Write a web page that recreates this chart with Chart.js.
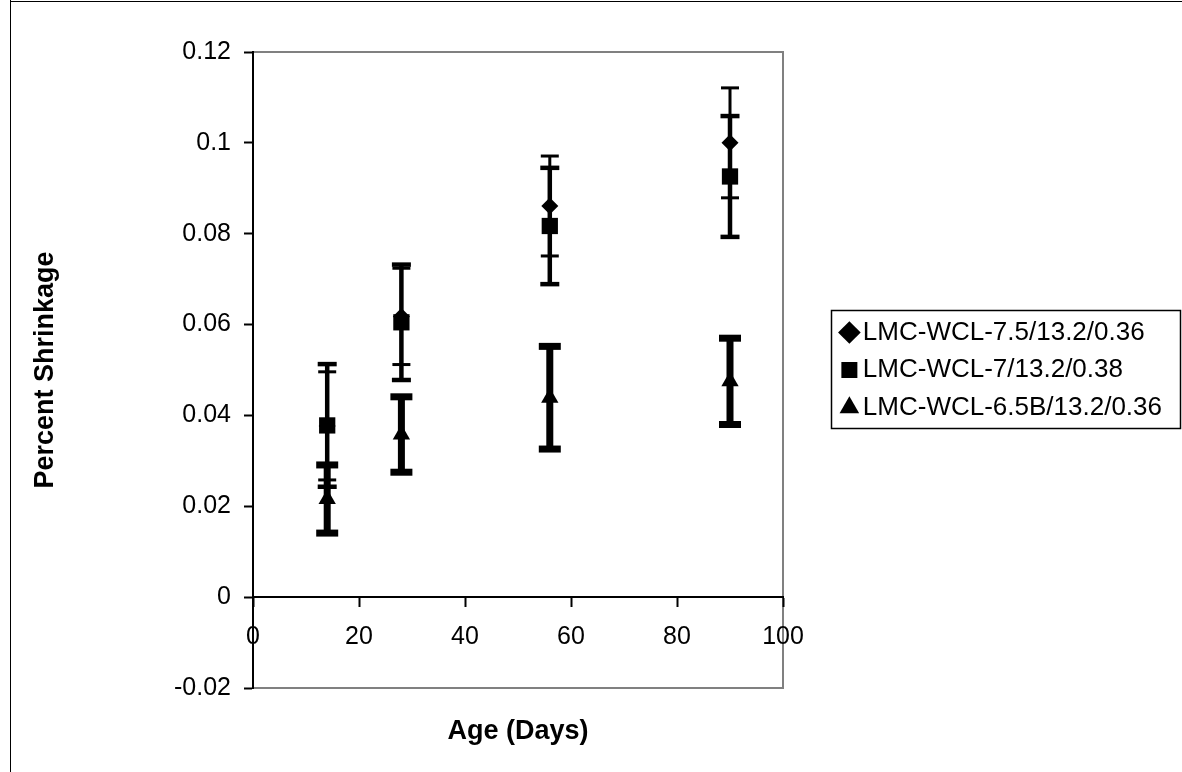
<!DOCTYPE html>
<html>
<head>
<meta charset="utf-8">
<script src="https://cdn.jsdelivr.net/npm/chart.js@4.4.1/dist/chart.umd.min.js"></script>
<style>
html,body{margin:0;padding:0;background:#fff;}
#wrap{width:1182px;height:772px;position:relative;}
</style>
</head>
<body>
<div id="wrap"><canvas id="c" width="1182" height="772"></canvas></div>
<script>
// ---- data ----
const days = [14, 28, 56, 90];
const seriesNames = ['LMC-WCL-7.5/13.2/0.36', 'LMC-WCL-7/13.2/0.38', 'LMC-WCL-6.5B/13.2/0.36'];
const s1 = [0.0377, 0.0618, 0.0861, 0.1000];
const e1 = [0.0119, 0.0106, 0.0110, 0.0121];
const s2 = [0.0378, 0.0605, 0.0817, 0.0926];
const e2 = [0.0135, 0.0127, 0.0128, 0.0133];
const s3 = [0.0216, 0.0358, 0.0439, 0.0475];
const e3 = [0.0075, 0.0083, 0.0113, 0.0095];
const yTickValues = [-0.02, 0, 0.02, 0.04, 0.06, 0.08, 0.1, 0.12];
const yTickLabels = ['-0.02', '0', '0.02', '0.04', '0.06', '0.08', '0.1', '0.12'];
const xTickValues = [0, 20, 40, 60, 80, 100];
const xTickLabels = ['0', '20', '40', '60', '80', '100'];

const FONT = "'Liberation Sans', Arial, sans-serif";

function pts(v) { return days.map((d, i) => ({x: d, y: v[i]})); }
function bars(v, e) {
  const out = [];
  days.forEach((d, i) => {
    out.push({x: d, y: v[i] - e[i]}, {x: d, y: v[i] + e[i]}, {x: d, y: null});
  });
  return out;
}

const markerStyles = [
  {pointStyle: 'rectRot', radius: 8.5},
  {pointStyle: 'rect', radius: 11.5},
  {pointStyle: 'triangle', radius: 10}
];
const barStyles = [
  {width: 3, cap: 9, capW: 3},
  {width: 4.5, cap: 9.5, capW: 4.5},
  {width: 7, cap: 11, capW: 7}
];
const values = [s1, s2, s3];
const errs = [e1, e2, e3];

const datasets = [];
values.forEach((v, k) => {
  datasets.push({
    label: seriesNames[k],
    data: pts(v),
    showLine: false,
    pointStyle: markerStyles[k].pointStyle,
    pointRadius: markerStyles[k].radius,
    pointBackgroundColor: '#000',
    pointBorderColor: '#000',
    pointBorderWidth: 0,
    backgroundColor: '#000',
    borderColor: '#000'
  });
});
values.forEach((v, k) => {
  datasets.push({
    label: seriesNames[k] + ' error',
    data: bars(v, errs[k]),
    showLine: true,
    spanGaps: false,
    borderColor: '#000',
    borderWidth: barStyles[k].width,
    pointStyle: 'line',
    pointRadius: barStyles[k].cap,
    pointBorderWidth: barStyles[k].capW,
    pointBorderColor: '#000',
    pointBackgroundColor: '#000',
    borderCapStyle: 'butt'
  });
});

const LEGEND_RIGHT = 1172;

const framePlugin = {
  id: 'frame',
  beforeDraw(chart) {
    const {ctx, chartArea: a} = chart;
    ctx.save();
    ctx.strokeStyle = '#808080';
    ctx.lineWidth = 2;
    ctx.strokeRect(a.left, a.top, a.right - a.left, a.bottom - a.top);
    ctx.restore();
  },
  afterDraw(chart) {
    const ctx = chart.ctx;
    ctx.save();
    ctx.strokeStyle = '#000';
    ctx.lineWidth = 1;
    ctx.beginPath();
    ctx.moveTo(10.5, 0); ctx.lineTo(10.5, 772);
    ctx.moveTo(10, 1.5); ctx.lineTo(1182, 1.5);
    ctx.stroke();
    // legend border
    const lg = chart.legend;
    if (lg && lg.legendHitBoxes && lg.legendHitBoxes.length) {
      const hb = lg.legendHitBoxes;
      let L = Infinity, R = -Infinity, T = Infinity, B = -Infinity;
      hb.forEach(h => {
        L = Math.min(L, h.left); R = Math.max(R, h.left + h.width);
        T = Math.min(T, h.top); B = Math.max(B, h.top + h.height);
      });
      const x0 = Math.round(L - 18) + 0.5, y0 = Math.round(T - 10) + 0.5;
      const x1 = Math.round(R + 18) + 0.5, y1 = Math.round(B + 7) + 0.5;
      ctx.lineWidth = 1.5;
      ctx.strokeRect(x0, y0, x1 - x0, y1 - y0);
    }
    ctx.restore();
  }
};

new Chart(document.getElementById('c'), {
  type: 'scatter',
  data: {datasets},
  options: {
    responsive: false,
    animation: false,
    devicePixelRatio: 1,
    events: [],
    layout: {padding: {left: 10, top: 52, right: 1182 - LEGEND_RIGHT, bottom: 84}},
    plugins: {
      tooltip: {enabled: false},
      legend: {
        position: 'right',
        align: 'center',
        maxWidth: 420,
        labels: {
          filter: (item) => item.datasetIndex < 3,
          usePointStyle: true,
          boxWidth: 1,
          boxHeight: 16,
          padding: 11.5,
          color: '#000',
          font: {family: FONT, size: 26}
        }
      }
    },
    scales: {
      x: {
        type: 'linear',
        position: {y: 0},
        min: 0, max: 100,
        afterBuildTicks(s) { s.ticks = xTickValues.map(v => ({value: v})); },
        ticks: {
          callback: (v) => xTickLabels[xTickValues.indexOf(v)],
          font: {family: FONT, size: 25},
          color: '#000',
          padding: 16,
          maxRotation: 0,
          autoSkip: false
        },
        grid: {drawOnChartArea: false, drawTicks: true, tickLength: 9, tickColor: '#000', tickWidth: 2},
        border: {display: true, color: '#000', width: 2},
        title: {display: true, text: 'Age (Days)', color: '#000',
          font: {family: FONT, size: 27, weight: 'bold'}, padding: {top: 47, bottom: 0}}
      },
      y: {
        type: 'linear',
        position: 'left',
        min: -0.02, max: 0.12,
        afterBuildTicks(s) { s.ticks = yTickValues.map(v => ({value: v})); },
        afterFit(s) { s.width = 243; },
        ticks: {
          callback: (v) => yTickLabels[yTickValues.indexOf(v)],
          font: {family: FONT, size: 25},
          color: '#000',
          padding: 13
        },
        grid: {drawOnChartArea: false, drawTicks: true, tickLength: 9, tickColor: '#000', tickWidth: 2},
        border: {display: true, color: '#000', width: 2},
        title: {display: true, text: 'Percent Shrinkage', color: '#000',
          font: {family: FONT, size: 27, weight: 'bold'}, padding: {top: 19, bottom: 0}}
      },
      ySpacer: {
        type: 'linear',
        axis: 'y',
        position: 'right',
        display: true,
        grid: {display: false, drawTicks: false},
        border: {display: false},
        ticks: {display: false},
        afterFit(s) { s.width = Math.max(0, LEGEND_RIGHT - s.chart.legend.width - 783); }
      }
    }
  },
  plugins: [framePlugin]
});
</script>
</body>
</html>
